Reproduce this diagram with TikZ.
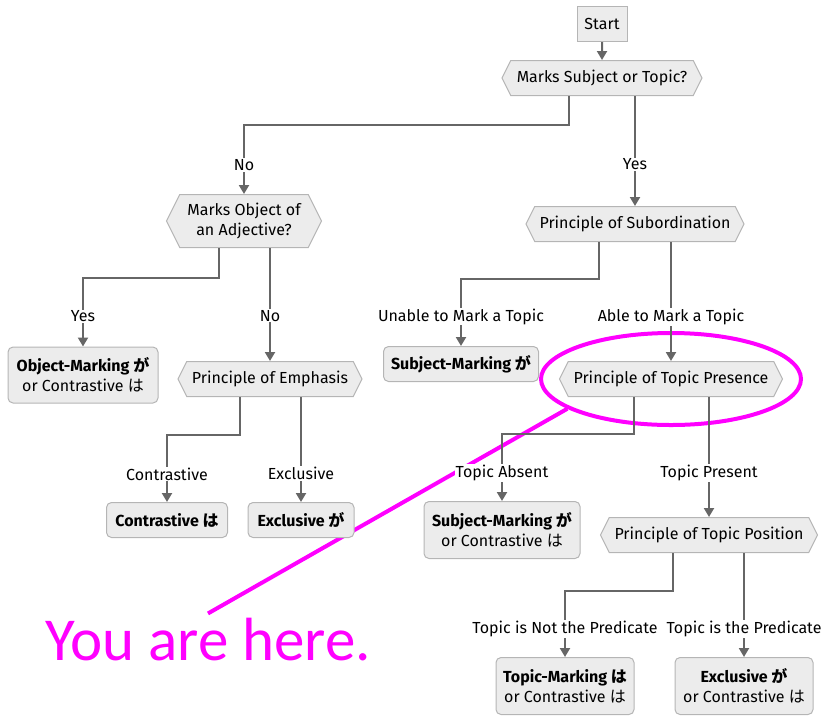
\documentclass[tikz,border=0pt]{standalone}
\usepackage{fontspec}
\setmainfont{Fira Sans}
\newfontfamily\jp{Noto Sans CJK JP}
\newfontfamily\notefont{Carlito}
\usepackage{xcolor}
\usetikzlibrary{shapes, shapes.geometric, shapes.symbols, arrows.meta, positioning, calc, backgrounds}
\definecolor{boxfill}{HTML}{ECECEC}
\definecolor{boxline}{HTML}{B5B5B5}
\definecolor{edgegray}{HTML}{666666}
\definecolor{hilite}{HTML}{FF00FF}
\newcommand{\chartfont}{\fontsize{16}{20}\selectfont}

\begin{document}
\begin{tikzpicture}[x=1pt, y=-1pt,
    chartbox/.style={draw=boxline, fill=boxfill, line width=1pt, font=\chartfont, align=center, minimum height=35pt, inner sep=2pt},
    startbox/.style={chartbox, minimum width=50pt},
    leaf/.style={chartbox, rounded corners=5pt},
    hexa/.style={chartbox, signal, signal to=west and east, signal pointer angle=127},
    flow/.style={draw=edgegray, line width=2pt, -{Triangle[width=10pt,length=9pt]}},
    lbl/.style={fill=white, font=\chartfont, inner sep=1pt},
    hl/.style={draw=hilite, line width=4pt}]
    \useasboundingbox (0,0) rectangle (830,724);

    \node[startbox] (start) at (602,24) {Start};
    \node[hexa, minimum width=200pt] (subj) at (602,78) {Marks Subject or Topic?};
    \node[hexa, minimum width=155pt, minimum height=53pt] (obj) at (244,221) {Marks Object of\\an Adjective?};
    \node[hexa, minimum width=218pt] (subord) at (635,224) {Principle of Subordination};

    \node[leaf, minimum width=150pt, minimum height=56pt] (objmark) at (83,375) {\textbf{Object-Marking {\jp が}}\\or Contrastive {\jp は}};
    \node[hexa, minimum width=184pt] (emph) at (270,379) {Principle of Emphasis};
    \node[leaf, minimum width=121pt] (contr) at (167,520) {\textbf{Contrastive {\jp は}}};
    \node[leaf, minimum width=106pt] (excl) at (301,520) {\textbf{Exclusive {\jp が}}};

    \node[leaf, minimum width=155pt] (subjmark) at (461,364) {\textbf{Subject-Marking {\jp が}}};
    \node[hexa, minimum width=223pt] (presence) at (671,379) {Principle of Topic Presence};
    \node[leaf, minimum width=156pt, minimum height=57pt] (subjcontr) at (502,530) {\textbf{Subject-Marking {\jp が}}\\or Contrastive {\jp は}};
    \node[hexa, minimum width=217pt] (position) at (709,535) {Principle of Topic Position};
    \node[leaf, minimum width=138pt, minimum height=57pt] (topicmark) at (565,686) {\textbf{Topic-Marking {\jp は}}\\or Contrastive {\jp は}};
    \node[leaf, minimum width=138pt, minimum height=57pt] (exclcontr) at (744,686) {\textbf{Exclusive {\jp が}}\\or Contrastive {\jp は}};

    \draw[flow] (start) -- (subj);
    \draw[flow] ([xshift=-33pt]subj.south) -- ++(0,29) -| (obj.north) node[lbl, pos=0.79] {No};
    \draw[flow] ([xshift=33pt]subj.south) -- (subord.north) node[lbl, pos=0.62] {Yes};

    \draw[flow] ([xshift=-25pt]obj.south) -- ++(0,30) -| (objmark.north) node[lbl, pos=0.78] {Yes};
    \draw[flow] ([xshift=26pt]obj.south) -- (emph.north) node[lbl, pos=0.6] {No};
    \draw[flow] ([xshift=-30pt]emph.south) -- ++(0,38) -| (contr.north) node[lbl, pos=0.79] {Contrastive};
    \draw[flow] ([xshift=31pt]emph.south) -- (excl.north) node[lbl, pos=0.73] {Exclusive};

    \draw[flow] ([xshift=-36pt]subord.south) -- ++(0,37) -| (subjmark.north) node[lbl, pos=0.78] {Unable to Mark a Topic};
    \draw[flow] ([xshift=36pt]subord.south) -- (presence.north) node[lbl, pos=0.63] {Able to Mark a Topic};
    \draw[flow] ([xshift=-37pt]presence.south) -- ++(0,37) -| (subjcontr.north) node[lbl, pos=0.79] {Topic Absent};
    \draw[flow] ([xshift=38pt]presence.south) -- (position.north) node[lbl, pos=0.63] {Topic Present};
    \draw[flow] ([xshift=-36pt]position.south) -- ++(0,38) -| (topicmark.north) node[lbl, pos=0.79] {Topic is Not the Predicate};
    \draw[flow] ([xshift=35pt]position.south) -- (exclcontr.north) node[lbl, pos=0.73] {Topic is the Predicate};

    \begin{pgfonlayer}{background}
      \node[ellipse, hl, minimum width=260pt, minimum height=92pt] (ring) at (presence.center) {};
      \node[text=hilite, font=\notefont\fontsize{61}{70}\selectfont, anchor=base, inner sep=0pt] (here) at (208,660) {You are here.};
      \draw[hl] (ring.196) -- ([yshift=4pt]here.north);
    \end{pgfonlayer}
\end{tikzpicture}
\end{document}
